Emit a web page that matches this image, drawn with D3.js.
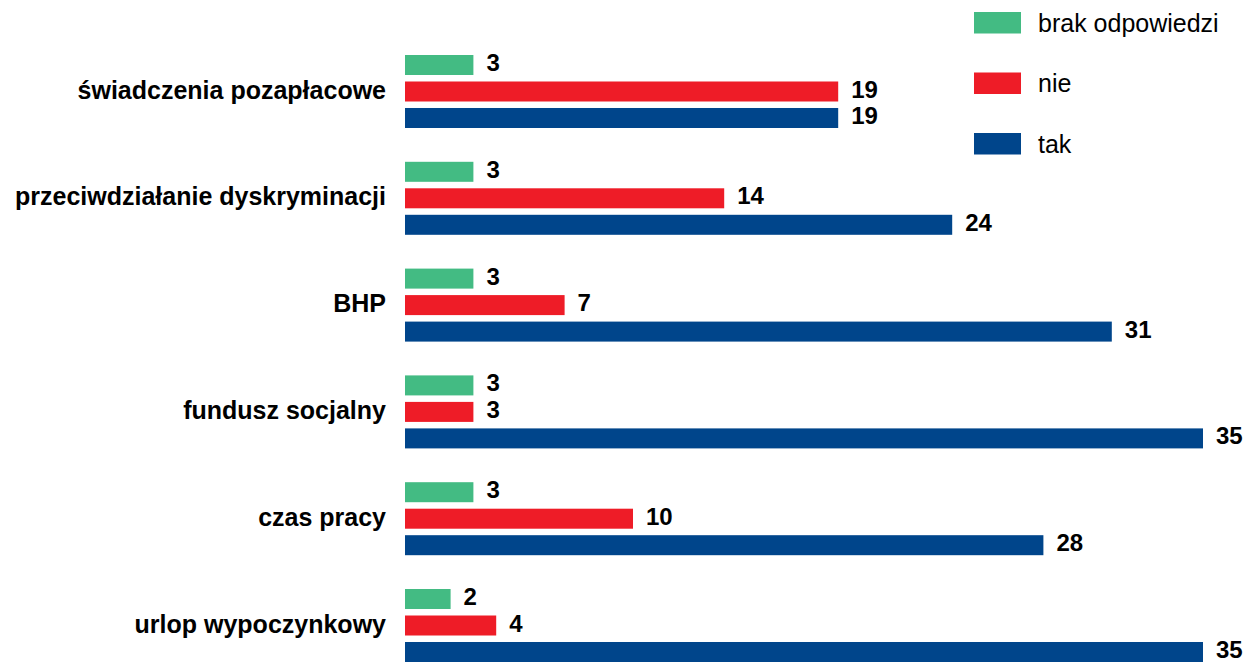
<!DOCTYPE html>
<html>
<head>
<meta charset="utf-8">
<script src="https://cdn.jsdelivr.net/npm/d3@7"></script>
<style>
  html, body { margin: 0; padding: 0; background: #fff; }
  svg { display: block; }
  text { font-family: "Liberation Sans", Arial, sans-serif; }
</style>
</head>
<body>
<svg id="chart" width="1255" height="662"></svg>
<script>
const categories = [
  "świadczenia pozapłacowe",
  "przeciwdziałanie dyskryminacji",
  "BHP",
  "fundusz socjalny",
  "czas pracy",
  "urlop wypoczynkowy"
];
const seriesNames = ["brak odpowiedzi", "nie", "tak"];
const brakOdpowiedzi = [3, 3, 3, 3, 3, 2];
const nie = [19, 14, 7, 3, 10, 4];
const tak = [19, 24, 31, 35, 28, 35];
const seriesColors = ["#43bb83", "#ee1c27", "#00458b"];

const seriesValues = [brakOdpowiedzi, nie, tak];
const rows = categories.map((c, i) => ({
  category: c,
  values: seriesNames.map((s, j) => ({ series: s, value: seriesValues[j][i], color: seriesColors[j] }))
}));

const svg = d3.select("#chart");

const x = d3.scaleLinear().domain([0, 35]).range([405, 1203]);
const y = d3.scaleBand().domain(categories).range([55, 662]).paddingInner(0.3165).paddingOuter(0);
const ySub = d3.scaleBand().domain(seriesNames).range([0, y.bandwidth()]).paddingInner(0.245).paddingOuter(0);

const groups = svg.append("g").selectAll("g")
  .data(rows)
  .join("g")
  .attr("transform", d => `translate(0,${y(d.category)})`);

groups.selectAll("rect")
  .data(d => d.values)
  .join("rect")
  .attr("x", x(0))
  .attr("y", d => ySub(d.series))
  .attr("width", d => x(d.value) - x(0))
  .attr("height", ySub.bandwidth())
  .attr("fill", d => d.color);

groups.selectAll("text.value")
  .data(d => d.values)
  .join("text")
  .attr("class", "value")
  .attr("x", d => x(d.value) + 13)
  .attr("y", d => ySub(d.series) + ySub.bandwidth() - 4)
  .attr("font-size", 24)
  .attr("font-weight", "bold")
  .attr("fill", "#000")
  .text(d => d.value);

// category labels, right-aligned against the bars
groups.append("text")
  .attr("x", 386)
  .attr("y", ySub("nie") + ySub.bandwidth() - 3)
  .attr("text-anchor", "end")
  .attr("font-size", 25)
  .attr("font-weight", "bold")
  .attr("fill", "#000")
  .text(d => d.category);

// legend
const legend = svg.append("g").selectAll("g")
  .data(seriesNames)
  .join("g")
  .attr("transform", (d, i) => `translate(974,${12 + i * 60.5})`);

legend.append("rect")
  .attr("width", 47)
  .attr("height", 21.5)
  .attr("fill", (d, i) => seriesColors[i]);

legend.append("text")
  .attr("x", 64)
  .attr("y", 19.5)
  .attr("font-size", 25)
  .attr("fill", "#000")
  .text(d => d);
</script>
</body>
</html>
